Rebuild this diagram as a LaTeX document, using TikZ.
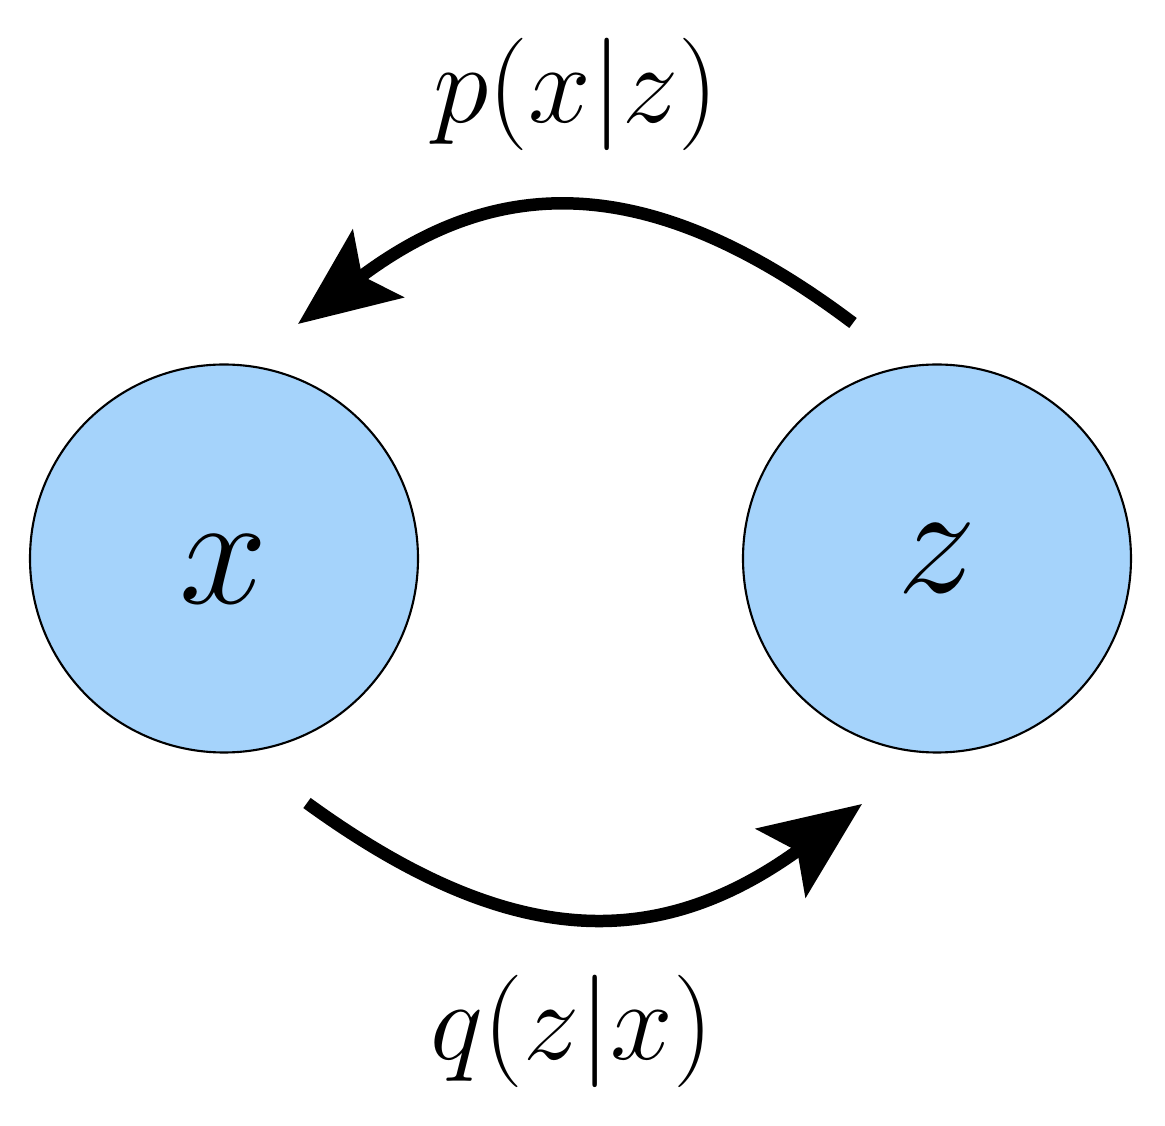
\documentclass[tikz,border=0pt]{standalone}
\usepackage{amsmath}
\usepackage{graphicx}
\usepackage{tikz}
\usetikzlibrary{arrows.meta,positioning,calc}
\definecolor{nodeblue}{RGB}{165,211,251}
\newcommand{\bigvar}[1]{\scalebox{1.81}{\Huge$#1$}}
\newcommand{\biglbl}[1]{\scalebox{1.286}{\Huge$#1$}}

\begin{document}
\begin{tikzpicture}[
    var/.style={circle, draw=black, line width=0.6pt, fill=nodeblue, minimum size=3.88cm, inner sep=0pt},
    flow/.style={line width=0.125cm, -{Stealth[length=1cm, width=0.84cm, inset=0.2cm]}},
    lbl/.style={anchor=base, inner sep=0pt}
  ]
    \useasboundingbox (0,0) rectangle (11.65,-11.26);
    % variables
    \node[var, text height=9mm] (x) at (2.24,-5.585) {\bigvar{x}};
    \node[var] (z) at (9.37,-5.585) {\bigvar{z}};
    % end points of the arrows
    \coordinate (dec-start) at ($(z)+(-0.84,2.355)$);
    \coordinate (dec-end) at ($(x)+(0.74,2.345)$);
    \coordinate (enc-start) at ($(x)+(0.83,-2.445)$);
    \coordinate (enc-end) at ($(z)+(-0.75,-2.455)$);
    % arrows
    \draw[flow] (dec-start) to[out=143, in=37, looseness=1.16] (dec-end);
    \draw[flow] (enc-start) to[out=-36, in=-144, looseness=1.16] (enc-end);
    % labels
    \node[lbl] (pxz) at (5.76,-1.23) {\biglbl{p(x|z)}};
    \node[lbl] (qzx) at (5.72,-10.60) {\biglbl{q(z|x)}};
\end{tikzpicture}
\end{document}
